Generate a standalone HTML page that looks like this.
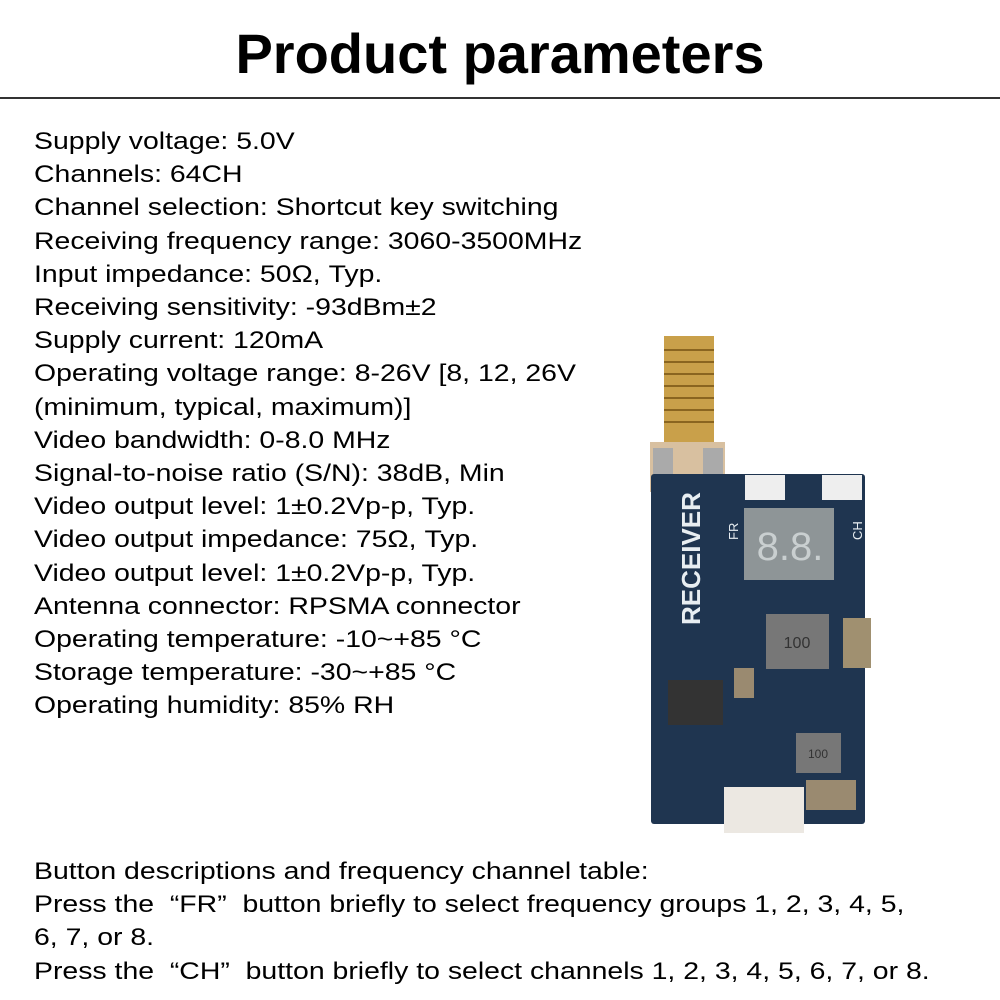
<!DOCTYPE html>
<html><head><style>
body{margin:0;width:1000px;height:1000px;background:#fff;position:relative;overflow:hidden;font-family:"Liberation Sans","DejaVu Sans",sans-serif;color:#000}
h1{position:absolute;top:19px;left:0;width:1000px;text-align:center;margin:0;font-size:56px;font-weight:bold;line-height:70px}
.rule{position:absolute;top:97px;left:0;width:1000px;height:2px;background:#333}
.t{position:absolute;left:34px;font-size:24.5px;line-height:33.2px;white-space:pre;transform:scaleX(1.16);transform-origin:0 0}
.board{position:absolute}
</style></head><body>
<h1>Product parameters</h1>
<div class="rule"></div>
<div class="t" style="top:125px">Supply voltage: 5.0V
Channels: 64CH
Channel selection: Shortcut key switching
Receiving frequency range: 3060-3500MHz
Input impedance: 50Ω, Typ.
Receiving sensitivity: -93dBm±2
Supply current: 120mA
Operating voltage range: 8-26V [8, 12, 26V
(minimum, typical, maximum)]
Video bandwidth: 0-8.0 MHz
Signal-to-noise ratio (S/N): 38dB, Min
Video output level: 1±0.2Vp-p, Typ.
Video output impedance: 75Ω, Typ.
Video output level: 1±0.2Vp-p, Typ.
Antenna connector: RPSMA connector
Operating temperature: -10~+85 °C
Storage temperature: -30~+85 °C
Operating humidity: 85% RH</div>
<div class="t" style="top:855px">Button descriptions and frequency channel table:
Press the  “FR”  button briefly to select frequency groups 1, 2, 3, 4, 5,
6, 7, or 8.
Press the  “CH”  button briefly to select channels 1, 2, 3, 4, 5, 6, 7, or 8.</div>
<svg class="board" style="left:0;top:0" width="1000" height="1000">
<rect x="664" y="336" width="50" height="120" fill="#c9a04a"/>
<g stroke="#8a6520" stroke-width="2">
<line x1="664" y1="350" x2="714" y2="350"/><line x1="664" y1="362" x2="714" y2="362"/><line x1="664" y1="374" x2="714" y2="374"/><line x1="664" y1="386" x2="714" y2="386"/><line x1="664" y1="398" x2="714" y2="398"/><line x1="664" y1="410" x2="714" y2="410"/><line x1="664" y1="422" x2="714" y2="422"/></g>
<rect x="650" y="442" width="75" height="50" fill="#d8c0a0"/>
<rect x="653" y="448" width="20" height="40" fill="#aaa"/><rect x="703" y="448" width="20" height="40" fill="#aaa"/>
<rect x="651" y="474" width="214" height="350" rx="3" fill="#1f3550"/>
<rect x="745" y="475" width="40" height="25" fill="#eee"/><rect x="822" y="475" width="40" height="25" fill="#eee"/>
<rect x="744" y="508" width="90" height="72" fill="#8e9597"/>
<text x="790" y="560" font-size="40" fill="#c9cfd0" text-anchor="middle" font-family="Liberation Sans">8.8.</text>
<text transform="translate(700,625) rotate(-90)" font-size="26" fill="#e8eef2" font-weight="bold" font-family="Liberation Sans">RECEIVER</text>
<text transform="translate(738,540) rotate(-90)" font-size="13" fill="#e8eef2" font-family="Liberation Sans">FR</text>
<text transform="translate(862,540) rotate(-90)" font-size="13" fill="#e8eef2" font-family="Liberation Sans">CH</text>
<rect x="766" y="614" width="63" height="55" fill="#777"/>
<text x="797" y="648" font-size="16" fill="#333" text-anchor="middle">100</text>
<rect x="843" y="618" width="28" height="50" fill="#a09070"/>
<rect x="668" y="680" width="55" height="45" fill="#333"/>
<rect x="734" y="668" width="20" height="30" fill="#9a8a70"/>
<rect x="796" y="733" width="45" height="40" fill="#777"/>
<text x="818" y="758" font-size="12" fill="#333" text-anchor="middle">100</text>
<rect x="724" y="787" width="80" height="46" fill="#ece8e2"/>
<rect x="806" y="780" width="50" height="30" fill="#9a8a70"/>
</svg>
</body></html>
